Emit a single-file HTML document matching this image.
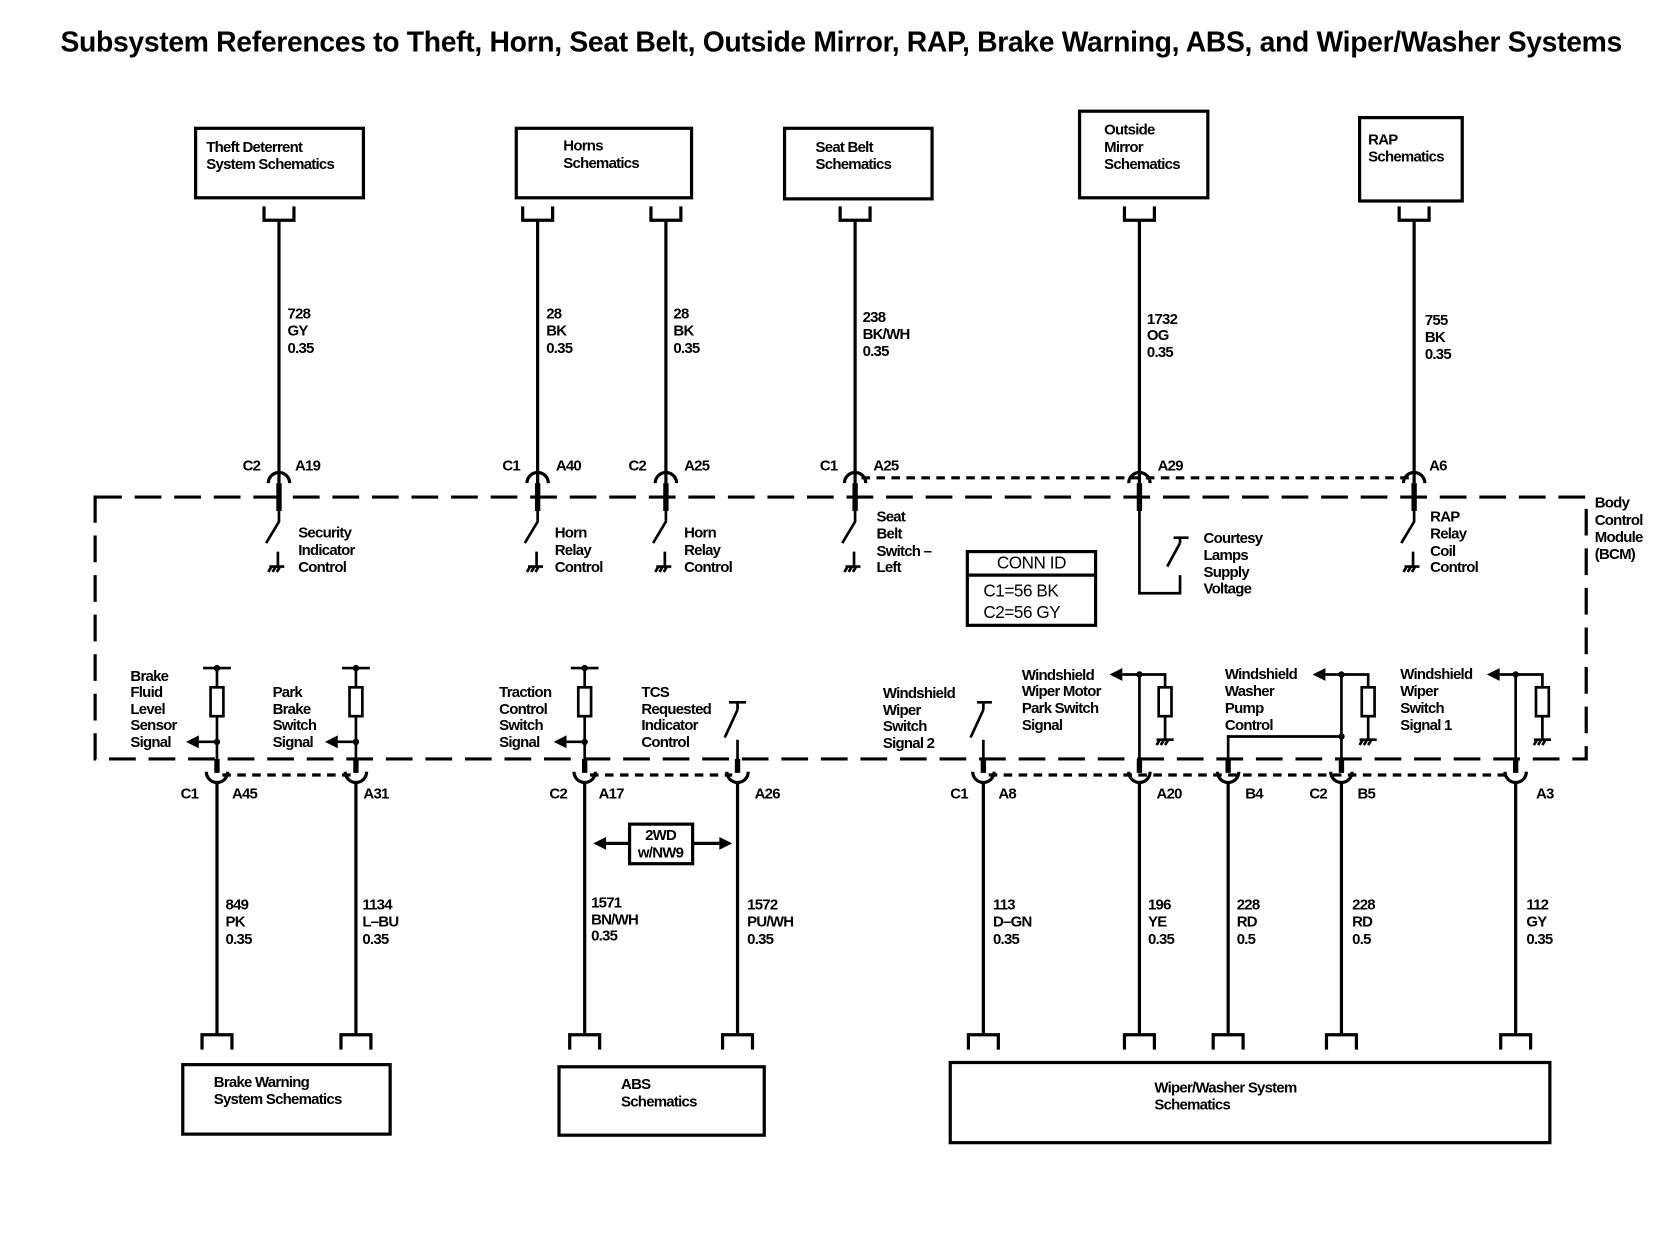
<!DOCTYPE html>
<html><head><meta charset="utf-8"><style>
html,body{margin:0;padding:0;background:#fff;width:1676px;height:1248px;overflow:hidden}
svg text{font-family:"Liberation Sans",Arial,sans-serif;font-size:14px;font-weight:bold;fill:#000;letter-spacing:-0.7px}
.t{font-weight:bold;font-size:26.5px;letter-spacing:-0.3px}
.n{font-weight:normal;font-size:16px;letter-spacing:-0.4px}
</style></head><body>
<svg width="1676" height="1248" viewBox="0 0 1568 1167.5" xmlns="http://www.w3.org/2000/svg">
<text class="t" x="787" y="48" text-anchor="middle">Subsystem References to Theft, Horn, Seat Belt, Outside Mirror, RAP, Brake Warning, ABS, and Wiper/Washer Systems</text>

<g fill="none" stroke="#000" stroke-width="3">
<rect x="183" y="120" width="157" height="65"/>
<rect x="483" y="120" width="164" height="65"/>
<rect x="734" y="120" width="138" height="66"/>
<rect x="1010" y="104" width="120" height="81"/>
<rect x="1272" y="110" width="96" height="78"/>
<rect x="171" y="996" width="194" height="65"/>
<rect x="523" y="998" width="192" height="64"/>
<rect x="889" y="994" width="561" height="75"/>
<rect x="89" y="465" width="1395" height="245" stroke-dasharray="25,12"/>
<path d="M806,447 H1318 M208,725 H328 M552,725 H685 M925,725 H1413" stroke-dasharray="8,6"/>
<rect x="905" y="516" width="120" height="69"/>
<line x1="905" y1="538" x2="1025" y2="538"/>
<rect x="589" y="771" width="59" height="37"/>
<path d="M589,789 H566 M648,789 H673"/>
</g>
<g fill="#000"><path d="M555,789 L567,783 L567,795Z"/><path d="M685,789 L673,783 L673,795Z"/></g>

<g fill="none" stroke="#000" stroke-width="3">
<path d="M247,193 V206 H275 V193 M261,206 V452"/>
<path d="M489,193 V206 H517 V193 M503,206 V452"/>
<path d="M609,193 V206 H637 V193 M623,206 V452"/>
<path d="M786,193 V206 H814 V193 M800,206 V452"/>
<path d="M1052,193 V206 H1080 V193 M1066,206 V452"/>
<path d="M1309,193 V206 H1337 V193 M1323,206 V452"/>
<path d="M251,452 A10,10 0 0 1 271,452"/>
<path d="M493,452 A10,10 0 0 1 513,452"/>
<path d="M613,452 A10,10 0 0 1 633,452"/>
<path d="M790,452 A10,10 0 0 1 810,452"/>
<path d="M1056,452 A10,10 0 0 1 1076,452"/>
<path d="M1313,452 A10,10 0 0 1 1333,452"/>
</g>
<g stroke="#000" stroke-width="5">
<path d="M261,452 V478 M503,452 V478 M623,452 V478 M800,452 V478 M1066,452 V478 M1323,452 V478"/>
</g>
<g fill="none" stroke="#000" stroke-width="2.5">
<path d="M261,478 V488 L249,508"/><path d="M503,478 V488 L491,508"/><path d="M623,478 V488 L611,508"/>
<path d="M800,478 V488 L788,508"/><path d="M1323,478 V488 L1311,508"/>
<path d="M260,516 V530 M252,530 H266 M254,530 L251,535 M258,530 L255,535 M262,530 L259,535"/>
<path d="M502,516 V530 M494,530 H508 M496,530 L493,535 M500,530 L497,535 M504,530 L501,535"/>
<path d="M622,516 V530 M614,530 H628 M616,530 L613,535 M620,530 L617,535 M624,530 L621,535"/>
<path d="M799,516 V530 M791,530 H805 M793,530 L790,535 M797,530 L794,535 M801,530 L798,535"/>
<path d="M1322,516 V530 M1314,530 H1328 M1316,530 L1313,535 M1320,530 L1317,535 M1324,530 L1321,535"/>
<path d="M1066,478 V555 H1104 V538 M1092,530 L1104,508 M1098,503 H1112 M1104,503 V508"/>

<path d="M190,625 H216 M203,625 V643 M203,670 V710 M203,694 H184"/>
<rect x="197" y="643" width="12" height="27"/>
<path d="M320,625 H346 M333,625 V643 M333,670 V710 M333,694 H314"/>
<rect x="327" y="643" width="12" height="27"/>
<path d="M534,625 H560 M547,625 V643 M547,670 V710 M547,694 H528"/>
<rect x="541" y="643" width="12" height="27"/>
<path d="M690,710 V692 M678,690 L690,664 M682,657 H698 M690,657 V664"/>
<path d="M920,710 V692 M908,690 L920,664 M914,657 H928 M920,657 V664"/>
<path d="M1066,710 V631 H1090 V643 M1090,670 V692 M1066,631 H1050 M1082,692 H1098 M1085,692 L1082,697 M1089,692 L1086,697 M1093,692 L1090,697"/>
<rect x="1084" y="643" width="12" height="27"/>
<path d="M1255,710 V631 H1280 V643 M1280,670 V692 M1255,631 H1240 M1272,692 H1288 M1275,692 L1272,697 M1279,692 L1276,697 M1283,692 L1280,697"/>
<rect x="1274" y="643" width="12" height="27"/>
<path d="M1149,710 V689 H1255"/>
<path d="M1418,710 V631 H1443 V643 M1443,670 V692 M1418,631 H1403 M1435,692 H1451 M1438,692 L1435,697 M1442,692 L1439,697 M1446,692 L1443,697"/>
<rect x="1437" y="643" width="12" height="27"/>
</g>
<g fill="#000">
<circle cx="203" cy="625" r="3"/><circle cx="203" cy="694" r="3"/>
<circle cx="333" cy="625" r="3"/><circle cx="333" cy="694" r="3"/>
<circle cx="547" cy="625" r="3"/><circle cx="547" cy="694" r="3"/>
<circle cx="1066" cy="631" r="3"/><circle cx="1255" cy="631" r="3"/><circle cx="1255" cy="689" r="3"/><circle cx="1418" cy="631" r="3"/>
<path d="M174,694 L186,688 L186,700Z"/><path d="M304,694 L316,688 L316,700Z"/><path d="M518,694 L530,688 L530,700Z"/>
<path d="M1038,631 L1050,625 L1050,637Z"/><path d="M1228,631 L1240,625 L1240,637Z"/><path d="M1391,631 L1403,625 L1403,637Z"/>
</g>

<g stroke="#000" stroke-width="5">
<path d="M203,710 V723 M333,710 V723 M547,710 V723 M690,710 V723 M920,710 V723 M1066,710 V723 M1149,710 V723 M1255,710 V723 M1418,710 V723"/>
</g>
<g fill="none" stroke="#000" stroke-width="3">
<path d="M193,722 A10,10 0 0 0 213,722 M323,722 A10,10 0 0 0 343,722 M537,722 A10,10 0 0 0 557,722 M680,722 A10,10 0 0 0 700,722 M910,722 A10,10 0 0 0 930,722 M1056,722 A10,10 0 0 0 1076,722 M1139,722 A10,10 0 0 0 1159,722 M1245,722 A10,10 0 0 0 1265,722 M1408,722 A10,10 0 0 0 1428,722"/>
<path d="M203,732 V968 M333,732 V968 M547,732 V968 M690,732 V968 M920,732 V968 M1066,732 V968 M1149,732 V968 M1255,732 V968 M1418,732 V968"/>
<path d="M189,982 V968 H217 V982 M319,982 V968 H347 V982 M533,982 V968 H561 V982 M676,982 V968 H704 V982 M906,982 V968 H934 V982 M1052,982 V968 H1080 V982 M1135,982 V968 H1163 V982 M1241,982 V968 H1269 V982 M1404,982 V968 H1432 V982"/>
</g>

<g>
<text x="193" y="142">Theft Deterrent</text><text x="193" y="158">System Schematics</text>
<text x="527" y="141">Horns</text><text x="527" y="157">Schematics</text>
<text x="763" y="142">Seat Belt</text><text x="763" y="158">Schematics</text>
<text x="1033" y="126">Outside</text><text x="1033" y="142">Mirror</text><text x="1033" y="158">Schematics</text>
<text x="1280" y="135">RAP</text><text x="1280" y="151">Schematics</text>

<text x="269" y="298">728</text><text x="269" y="314">GY</text><text x="269" y="330">0.35</text>
<text x="511" y="298">28</text><text x="511" y="314">BK</text><text x="511" y="330">0.35</text>
<text x="630" y="298">28</text><text x="630" y="314">BK</text><text x="630" y="330">0.35</text>
<text x="807" y="301">238</text><text x="807" y="317">BK/WH</text><text x="807" y="333">0.35</text>
<text x="1073" y="303">1732</text><text x="1073" y="318">OG</text><text x="1073" y="334">0.35</text>
<text x="1333" y="304">755</text><text x="1333" y="320">BK</text><text x="1333" y="336">0.35</text>

<text x="227" y="440">C2</text><text x="276" y="440">A19</text>
<text x="470" y="440">C1</text><text x="520" y="440">A40</text>
<text x="588" y="440">C2</text><text x="640" y="440">A25</text>
<text x="767" y="440">C1</text><text x="817" y="440">A25</text>
<text x="1083" y="440">A29</text>
<text x="1337" y="440">A6</text>

<text x="279" y="503">Security</text><text x="279" y="519">Indicator</text><text x="279" y="535">Control</text>
<text x="519" y="503">Horn</text><text x="519" y="519">Relay</text><text x="519" y="535">Control</text>
<text x="640" y="503">Horn</text><text x="640" y="519">Relay</text><text x="640" y="535">Control</text>
<text x="820" y="488">Seat</text><text x="820" y="504">Belt</text><text x="820" y="520">Switch –</text><text x="820" y="535">Left</text>
<text x="1126" y="508">Courtesy</text><text x="1126" y="524">Lamps</text><text x="1126" y="540">Supply</text><text x="1126" y="555">Voltage</text>
<text x="1338" y="488">RAP</text><text x="1338" y="504">Relay</text><text x="1338" y="520">Coil</text><text x="1338" y="535">Control</text>
<text x="1492" y="475">Body</text><text x="1492" y="491">Control</text><text x="1492" y="507">Module</text><text x="1492" y="523">(BCM)</text>

<text class="n" x="965" y="532" text-anchor="middle">CONN ID</text>
<text class="n" x="920" y="558">C1=56 BK</text>
<text class="n" x="920" y="578">C2=56 GY</text>

<text x="122" y="637">Brake</text><text x="122" y="652">Fluid</text><text x="122" y="668">Level</text><text x="122" y="683">Sensor</text><text x="122" y="699">Signal</text>
<text x="255" y="652">Park</text><text x="255" y="668">Brake</text><text x="255" y="683">Switch</text><text x="255" y="699">Signal</text>
<text x="467" y="652">Traction</text><text x="467" y="668">Control</text><text x="467" y="683">Switch</text><text x="467" y="699">Signal</text>
<text x="600" y="652">TCS</text><text x="600" y="668">Requested</text><text x="600" y="683">Indicator</text><text x="600" y="699">Control</text>
<text x="826" y="653">Windshield</text><text x="826" y="669">Wiper</text><text x="826" y="684">Switch</text><text x="826" y="700">Signal 2</text>
<text x="956" y="636">Windshield</text><text x="956" y="651">Wiper Motor</text><text x="956" y="667">Park Switch</text><text x="956" y="683">Signal</text>
<text x="1146" y="635">Windshield</text><text x="1146" y="651">Washer</text><text x="1146" y="667">Pump</text><text x="1146" y="683">Control</text>
<text x="1310" y="635">Windshield</text><text x="1310" y="651">Wiper</text><text x="1310" y="667">Switch</text><text x="1310" y="683">Signal 1</text>

<text x="169" y="747">C1</text><text x="217" y="747">A45</text>
<text x="340" y="747">A31</text>
<text x="514" y="747">C2</text><text x="560" y="747">A17</text>
<text x="706" y="747">A26</text>
<text x="889" y="747">C1</text><text x="934" y="747">A8</text>
<text x="1082" y="747">A20</text>
<text x="1165" y="747">B4</text>
<text x="1225" y="747">C2</text><text x="1270" y="747">B5</text>
<text x="1437" y="747">A3</text>

<text x="618" y="786" text-anchor="middle">2WD</text><text x="618" y="802" text-anchor="middle">w/NW9</text>

<text x="211" y="851">849</text><text x="211" y="867">PK</text><text x="211" y="883">0.35</text>
<text x="339" y="851">1134</text><text x="339" y="867">L–BU</text><text x="339" y="883">0.35</text>
<text x="553" y="849">1571</text><text x="553" y="865">BN/WH</text><text x="553" y="880">0.35</text>
<text x="699" y="851">1572</text><text x="699" y="867">PU/WH</text><text x="699" y="883">0.35</text>
<text x="929" y="851">113</text><text x="929" y="867">D–GN</text><text x="929" y="883">0.35</text>
<text x="1074" y="851">196</text><text x="1074" y="867">YE</text><text x="1074" y="883">0.35</text>
<text x="1157" y="851">228</text><text x="1157" y="867">RD</text><text x="1157" y="883">0.5</text>
<text x="1265" y="851">228</text><text x="1265" y="867">RD</text><text x="1265" y="883">0.5</text>
<text x="1428" y="851">112</text><text x="1428" y="867">GY</text><text x="1428" y="883">0.35</text>

<text x="200" y="1017">Brake Warning</text><text x="200" y="1033">System Schematics</text>
<text x="581" y="1019">ABS</text><text x="581" y="1035">Schematics</text>
<text x="1080" y="1022">Wiper/Washer System</text><text x="1080" y="1038">Schematics</text>
</g>
</svg>
</body></html>
